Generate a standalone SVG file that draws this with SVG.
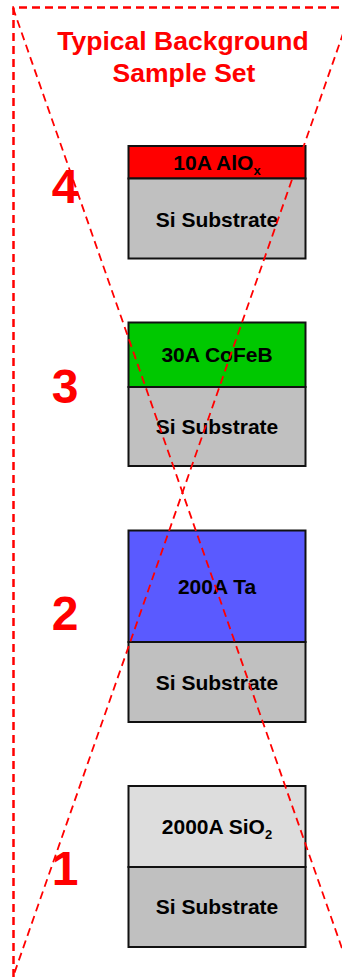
<svg xmlns="http://www.w3.org/2000/svg" width="342" height="977" viewBox="0 0 342 977">
<style>
.frame{fill:none;stroke:#ff0000;stroke-width:2.5;stroke-dasharray:8 5}
.diag{fill:none;stroke:#ff0000;stroke-width:1.8;stroke-dasharray:8 5}
.box{stroke:#111;stroke-width:2}
.lbl{font-family:"Liberation Sans",Arial,sans-serif;font-weight:bold;font-size:21px;fill:#000;text-anchor:middle}
.sub{font-size:13px}
.num{font-family:"Liberation Sans",Arial,sans-serif;font-weight:bold;font-size:48px;fill:#ff0000;text-anchor:middle}
.title{font-family:"Liberation Sans",Arial,sans-serif;font-weight:bold;font-size:26.5px;fill:#ff0000;text-anchor:middle}
</style>
<rect width="342" height="977" fill="#fff"/>
<g id="title">
<text class="title" x="183" y="50">Typical Background</text>
<text class="title" x="184" y="82">Sample Set</text>
</g>
<g id="sample4">
<rect class="box" x="128.5" y="146" width="177" height="32.5" fill="#ff0000"/>
<rect class="box" x="128.5" y="178.5" width="177" height="80" fill="#c0c0c0"/>
<text class="lbl" x="217" y="170">10A AlO<tspan class="sub" dy="5">x</tspan></text>
<text class="lbl" x="217" y="226.5">Si Substrate</text>
<text class="num" x="65" y="203">4</text>
</g>
<g id="sample3">
<rect class="box" x="128.5" y="322.5" width="177" height="64.5" fill="#00c800"/>
<rect class="box" x="128.5" y="387" width="177" height="79" fill="#c0c0c0"/>
<text class="lbl" x="217" y="362">30A CoFeB</text>
<text class="lbl" x="217" y="434">Si Substrate</text>
<text class="num" x="65" y="403">3</text>
</g>
<g id="sample2">
<rect class="box" x="128.5" y="530.5" width="177" height="111.5" fill="#5a5aff"/>
<rect class="box" x="128.5" y="642" width="177" height="80" fill="#c0c0c0"/>
<text class="lbl" x="217" y="594">200A Ta</text>
<text class="lbl" x="217" y="690">Si Substrate</text>
<text class="num" x="65" y="630">2</text>
</g>
<g id="sample1">
<rect class="box" x="128.5" y="786" width="177" height="81" fill="#dddddd"/>
<rect class="box" x="128.5" y="867" width="177" height="80" fill="#c0c0c0"/>
<text class="lbl" x="217" y="834">2000A SiO<tspan class="sub" dy="5">2</tspan></text>
<text class="lbl" x="217" y="914">Si Substrate</text>
<text class="num" x="65" y="885">1</text>
</g>
<g id="connectors">
<path class="frame" d="M13.5,977 V7.5 H352"/>
<line class="diag" x1="13" y1="8" x2="352" y2="977"/>
<line class="diag" x1="352" y1="8" x2="13" y2="977"/>
</g>
</svg>
